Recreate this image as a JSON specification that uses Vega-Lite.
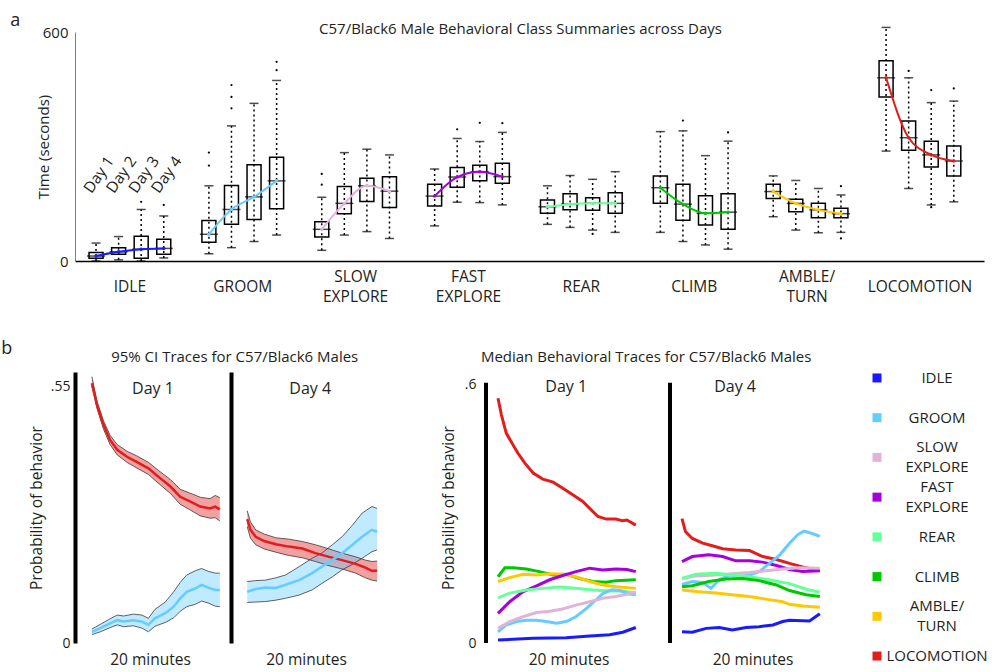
{
"$schema":"https://vega.github.io/schema/vega-lite/v6.json",
"padding":{"left":1,"top":12,"right":0,"bottom":0},
"config":{"font":"Open Sans","view":{"stroke":null},"axis":{"labelColor":"#231f20","titleColor":"#231f20","grid":false},"title":{"color":"#231f20","fontWeight":"normal"}},
"datasets":{
"boxes":[
{"behavior":"IDLE","day":1,"min":0,"q1":7,"median":13,"q3":22,"max":47},
{"behavior":"IDLE","day":2,"min":3,"q1":18,"median":24,"q3":35,"max":64},
{"behavior":"IDLE","day":3,"min":0,"q1":7,"median":31,"q3":65,"max":135},
{"behavior":"IDLE","day":4,"min":8,"q1":18,"median":33,"q3":57,"max":118},
{"behavior":"GROOM","day":1,"min":19,"q1":49,"median":70,"q3":106,"max":197},
{"behavior":"GROOM","day":2,"min":35,"q1":96,"median":135,"q3":198,"max":354},
{"behavior":"GROOM","day":3,"min":51,"q1":109,"median":168,"q3":252,"max":413},
{"behavior":"GROOM","day":4,"min":68,"q1":137,"median":210,"q3":272,"max":473},
{"behavior":"SLOW EXPLORE","day":1,"min":28,"q1":63,"median":83,"q3":103,"max":167},
{"behavior":"SLOW EXPLORE","day":2,"min":68,"q1":124,"median":151,"q3":195,"max":284},
{"behavior":"SLOW EXPLORE","day":3,"min":77,"q1":156,"median":197,"q3":217,"max":293},
{"behavior":"SLOW EXPLORE","day":4,"min":59,"q1":140,"median":183,"q3":221,"max":278},
{"behavior":"FAST EXPLORE","day":1,"min":92,"q1":144,"median":170,"q3":201,"max":241},
{"behavior":"FAST EXPLORE","day":2,"min":154,"q1":193,"median":220,"q3":245,"max":321},
{"behavior":"FAST EXPLORE","day":3,"min":153,"q1":210,"median":234,"q3":251,"max":313},
{"behavior":"FAST EXPLORE","day":4,"min":147,"q1":204,"median":221,"q3":256,"max":337},
{"behavior":"REAR","day":1,"min":96,"q1":125,"median":142,"q3":160,"max":197},
{"behavior":"REAR","day":2,"min":88,"q1":134,"median":149,"q3":176,"max":224},
{"behavior":"REAR","day":3,"min":81,"q1":133,"median":151,"q3":166,"max":214},
{"behavior":"REAR","day":4,"min":75,"q1":125,"median":151,"q3":179,"max":234},
{"behavior":"CLIMB","day":1,"min":75,"q1":151,"median":192,"q3":223,"max":339},
{"behavior":"CLIMB","day":2,"min":51,"q1":107,"median":149,"q3":201,"max":341},
{"behavior":"CLIMB","day":3,"min":42,"q1":94,"median":125,"q3":171,"max":276},
{"behavior":"CLIMB","day":4,"min":31,"q1":83,"median":128,"q3":176,"max":314},
{"behavior":"AMBLE/TURN","day":1,"min":116,"q1":164,"median":182,"q3":201,"max":223},
{"behavior":"AMBLE/TURN","day":2,"min":81,"q1":129,"median":151,"q3":162,"max":211},
{"behavior":"AMBLE/TURN","day":3,"min":74,"q1":113,"median":134,"q3":151,"max":190},
{"behavior":"AMBLE/TURN","day":4,"min":75,"q1":113,"median":124,"q3":138,"max":173},
{"behavior":"LOCOMOTION","day":1,"min":288,"q1":430,"median":480,"q3":525,"max":612},
{"behavior":"LOCOMOTION","day":2,"min":190,"q1":290,"median":323,"q3":367,"max":480},
{"behavior":"LOCOMOTION","day":3,"min":147,"q1":246,"median":278,"q3":314,"max":415},
{"behavior":"LOCOMOTION","day":4,"min":155,"q1":223,"median":262,"q3":301,"max":419}
],
"outliers":[
{"behavior":"IDLE","day":3,"value":155},
{"behavior":"IDLE","day":4,"value":147},
{"behavior":"GROOM","day":1,"value":250},
{"behavior":"GROOM","day":1,"value":284},
{"behavior":"GROOM","day":2,"value":400},
{"behavior":"GROOM","day":2,"value":430},
{"behavior":"GROOM","day":2,"value":461},
{"behavior":"GROOM","day":4,"value":500},
{"behavior":"GROOM","day":4,"value":522},
{"behavior":"SLOW EXPLORE","day":1,"value":200},
{"behavior":"SLOW EXPLORE","day":1,"value":228},
{"behavior":"FAST EXPLORE","day":2,"value":345},
{"behavior":"FAST EXPLORE","day":3,"value":362},
{"behavior":"FAST EXPLORE","day":4,"value":361},
{"behavior":"REAR","day":3,"value":71},
{"behavior":"CLIMB","day":2,"value":368},
{"behavior":"CLIMB","day":4,"value":337},
{"behavior":"AMBLE/TURN","day":4,"value":196},
{"behavior":"AMBLE/TURN","day":4,"value":59},
{"behavior":"LOCOMOTION","day":2,"value":498},
{"behavior":"LOCOMOTION","day":3,"value":448},
{"behavior":"LOCOMOTION","day":3,"value":141},
{"behavior":"LOCOMOTION","day":4,"value":452}
],
"daylabels":[
{"behavior":"IDLE","day":1,"label":"Day 1"},
{"behavior":"IDLE","day":2,"label":"Day 2"},
{"behavior":"IDLE","day":3,"label":"Day 3"},
{"behavior":"IDLE","day":4,"label":"Day 4"}
],
"legend":[
{"behavior":"IDLE"},{"behavior":"GROOM"},{"behavior":"SLOW EXPLORE"},{"behavior":"FAST EXPLORE"},
{"behavior":"REAR"},{"behavior":"CLIMB"},{"behavior":"AMBLE/TURN"},{"behavior":"LOCOMOTION"}
],
"legendtext":[
{"behavior":"IDLE","slot":"c","text":"IDLE"},
{"behavior":"GROOM","slot":"c","text":"GROOM"},
{"behavior":"SLOW EXPLORE","slot":"1","text":"SLOW"},
{"behavior":"SLOW EXPLORE","slot":"2","text":"EXPLORE"},
{"behavior":"FAST EXPLORE","slot":"1","text":"FAST"},
{"behavior":"FAST EXPLORE","slot":"2","text":"EXPLORE"},
{"behavior":"REAR","slot":"c","text":"REAR"},
{"behavior":"CLIMB","slot":"c","text":"CLIMB"},
{"behavior":"AMBLE/TURN","slot":"1","text":"AMBLE/"},
{"behavior":"AMBLE/TURN","slot":"2","text":"TURN"},
{"behavior":"LOCOMOTION","slot":"c","text":"LOCOMOTION"}
],
"panellabels":[{"label":"Day 1"}],
"panellabels4":[{"label":"Day 4"}],
"ci":[
{"day":"Day 1","behavior":"LOCOMOTION","t":0.1,"mean":0.558,"lo":0.552,"hi":0.572},
{"day":"Day 1","behavior":"LOCOMOTION","t":0.9,"mean":0.511,"lo":0.503,"hi":0.519},
{"day":"Day 1","behavior":"LOCOMOTION","t":1.9,"mean":0.468,"lo":0.459,"hi":0.477},
{"day":"Day 1","behavior":"LOCOMOTION","t":2.9,"mean":0.436,"lo":0.426,"hi":0.446},
{"day":"Day 1","behavior":"LOCOMOTION","t":4.0,"mean":0.415,"lo":0.404,"hi":0.426},
{"day":"Day 1","behavior":"LOCOMOTION","t":5.5,"mean":0.400,"lo":0.388,"hi":0.412},
{"day":"Day 1","behavior":"LOCOMOTION","t":7.0,"mean":0.389,"lo":0.376,"hi":0.402},
{"day":"Day 1","behavior":"LOCOMOTION","t":8.8,"mean":0.375,"lo":0.362,"hi":0.388},
{"day":"Day 1","behavior":"LOCOMOTION","t":10.6,"mean":0.354,"lo":0.340,"hi":0.368},
{"day":"Day 1","behavior":"LOCOMOTION","t":12.2,"mean":0.336,"lo":0.321,"hi":0.351},
{"day":"Day 1","behavior":"LOCOMOTION","t":13.7,"mean":0.314,"lo":0.298,"hi":0.330},
{"day":"Day 1","behavior":"LOCOMOTION","t":15.2,"mean":0.304,"lo":0.286,"hi":0.322},
{"day":"Day 1","behavior":"LOCOMOTION","t":16.8,"mean":0.293,"lo":0.273,"hi":0.313},
{"day":"Day 1","behavior":"LOCOMOTION","t":18.3,"mean":0.289,"lo":0.268,"hi":0.310},
{"day":"Day 1","behavior":"LOCOMOTION","t":19.1,"mean":0.293,"lo":0.269,"hi":0.317},
{"day":"Day 1","behavior":"LOCOMOTION","t":19.8,"mean":0.287,"lo":0.262,"hi":0.312},
{"day":"Day 1","behavior":"GROOM","t":0.1,"mean":0.024,"lo":0.018,"hi":0.030},
{"day":"Day 1","behavior":"GROOM","t":1.4,"mean":0.032,"lo":0.024,"hi":0.040},
{"day":"Day 1","behavior":"GROOM","t":2.9,"mean":0.042,"lo":0.033,"hi":0.052},
{"day":"Day 1","behavior":"GROOM","t":4.0,"mean":0.049,"lo":0.039,"hi":0.060},
{"day":"Day 1","behavior":"GROOM","t":5.0,"mean":0.046,"lo":0.035,"hi":0.058},
{"day":"Day 1","behavior":"GROOM","t":6.5,"mean":0.049,"lo":0.037,"hi":0.062},
{"day":"Day 1","behavior":"GROOM","t":7.8,"mean":0.046,"lo":0.032,"hi":0.060},
{"day":"Day 1","behavior":"GROOM","t":8.8,"mean":0.039,"lo":0.024,"hi":0.053},
{"day":"Day 1","behavior":"GROOM","t":9.8,"mean":0.053,"lo":0.036,"hi":0.072},
{"day":"Day 1","behavior":"GROOM","t":11.4,"mean":0.064,"lo":0.044,"hi":0.088},
{"day":"Day 1","behavior":"GROOM","t":12.7,"mean":0.078,"lo":0.054,"hi":0.110},
{"day":"Day 1","behavior":"GROOM","t":13.7,"mean":0.096,"lo":0.068,"hi":0.130},
{"day":"Day 1","behavior":"GROOM","t":14.7,"mean":0.110,"lo":0.078,"hi":0.146},
{"day":"Day 1","behavior":"GROOM","t":16.0,"mean":0.117,"lo":0.083,"hi":0.155},
{"day":"Day 1","behavior":"GROOM","t":17.0,"mean":0.125,"lo":0.090,"hi":0.160},
{"day":"Day 1","behavior":"GROOM","t":18.0,"mean":0.119,"lo":0.086,"hi":0.154},
{"day":"Day 1","behavior":"GROOM","t":19.1,"mean":0.114,"lo":0.079,"hi":0.150},
{"day":"Day 1","behavior":"GROOM","t":19.8,"mean":0.114,"lo":0.078,"hi":0.150},
{"day":"Day 4","behavior":"LOCOMOTION","t":0,"mean":0.266,"lo":0.250,"hi":0.284},
{"day":"Day 4","behavior":"LOCOMOTION","t":0.5,"mean":0.243,"lo":0.225,"hi":0.260},
{"day":"Day 4","behavior":"LOCOMOTION","t":1.3,"mean":0.228,"lo":0.211,"hi":0.243},
{"day":"Day 4","behavior":"LOCOMOTION","t":2.6,"mean":0.219,"lo":0.202,"hi":0.234},
{"day":"Day 4","behavior":"LOCOMOTION","t":4.4,"mean":0.212,"lo":0.195,"hi":0.226},
{"day":"Day 4","behavior":"LOCOMOTION","t":6.4,"mean":0.207,"lo":0.188,"hi":0.223},
{"day":"Day 4","behavior":"LOCOMOTION","t":8.5,"mean":0.203,"lo":0.183,"hi":0.218},
{"day":"Day 4","behavior":"LOCOMOTION","t":10.5,"mean":0.193,"lo":0.175,"hi":0.211},
{"day":"Day 4","behavior":"LOCOMOTION","t":12.6,"mean":0.185,"lo":0.166,"hi":0.202},
{"day":"Day 4","behavior":"LOCOMOTION","t":14.6,"mean":0.178,"lo":0.159,"hi":0.193},
{"day":"Day 4","behavior":"LOCOMOTION","t":16.7,"mean":0.170,"lo":0.150,"hi":0.185},
{"day":"Day 4","behavior":"LOCOMOTION","t":18.2,"mean":0.162,"lo":0.140,"hi":0.178},
{"day":"Day 4","behavior":"LOCOMOTION","t":19.2,"mean":0.155,"lo":0.135,"hi":0.175},
{"day":"Day 4","behavior":"LOCOMOTION","t":20,"mean":0.155,"lo":0.133,"hi":0.176},
{"day":"Day 4","behavior":"GROOM","t":0,"mean":0.110,"lo":0.087,"hi":0.132},
{"day":"Day 4","behavior":"GROOM","t":1.3,"mean":0.116,"lo":0.088,"hi":0.134},
{"day":"Day 4","behavior":"GROOM","t":2.8,"mean":0.119,"lo":0.089,"hi":0.135},
{"day":"Day 4","behavior":"GROOM","t":4.4,"mean":0.118,"lo":0.092,"hi":0.140},
{"day":"Day 4","behavior":"GROOM","t":5.9,"mean":0.125,"lo":0.096,"hi":0.146},
{"day":"Day 4","behavior":"GROOM","t":8.0,"mean":0.135,"lo":0.103,"hi":0.164},
{"day":"Day 4","behavior":"GROOM","t":10.0,"mean":0.150,"lo":0.114,"hi":0.182},
{"day":"Day 4","behavior":"GROOM","t":11.5,"mean":0.164,"lo":0.128,"hi":0.193},
{"day":"Day 4","behavior":"GROOM","t":13.1,"mean":0.178,"lo":0.142,"hi":0.211},
{"day":"Day 4","behavior":"GROOM","t":14.6,"mean":0.193,"lo":0.157,"hi":0.228},
{"day":"Day 4","behavior":"GROOM","t":16.2,"mean":0.211,"lo":0.169,"hi":0.253},
{"day":"Day 4","behavior":"GROOM","t":17.7,"mean":0.228,"lo":0.182,"hi":0.279},
{"day":"Day 4","behavior":"GROOM","t":19.2,"mean":0.243,"lo":0.196,"hi":0.293},
{"day":"Day 4","behavior":"GROOM","t":20,"mean":0.239,"lo":0.200,"hi":0.289}
],
"med":[
{"day":"Day 1","behavior":"LOCOMOTION","t":0,"p":0.569},
{"day":"Day 1","behavior":"LOCOMOTION","t":0.5,"p":0.530},
{"day":"Day 1","behavior":"LOCOMOTION","t":1.2,"p":0.488},
{"day":"Day 1","behavior":"LOCOMOTION","t":2.2,"p":0.460},
{"day":"Day 1","behavior":"LOCOMOTION","t":2.9,"p":0.441},
{"day":"Day 1","behavior":"LOCOMOTION","t":3.9,"p":0.418},
{"day":"Day 1","behavior":"LOCOMOTION","t":5.1,"p":0.395},
{"day":"Day 1","behavior":"LOCOMOTION","t":6.5,"p":0.381},
{"day":"Day 1","behavior":"LOCOMOTION","t":8.0,"p":0.374},
{"day":"Day 1","behavior":"LOCOMOTION","t":9.4,"p":0.360},
{"day":"Day 1","behavior":"LOCOMOTION","t":10.9,"p":0.344},
{"day":"Day 1","behavior":"LOCOMOTION","t":12.3,"p":0.329},
{"day":"Day 1","behavior":"LOCOMOTION","t":13.3,"p":0.313},
{"day":"Day 1","behavior":"LOCOMOTION","t":14.5,"p":0.294},
{"day":"Day 1","behavior":"LOCOMOTION","t":15.7,"p":0.288},
{"day":"Day 1","behavior":"LOCOMOTION","t":17.1,"p":0.288},
{"day":"Day 1","behavior":"LOCOMOTION","t":18.1,"p":0.284},
{"day":"Day 1","behavior":"LOCOMOTION","t":18.7,"p":0.286},
{"day":"Day 1","behavior":"LOCOMOTION","t":20,"p":0.274},
{"day":"Day 1","behavior":"CLIMB","t":0,"p":0.154},
{"day":"Day 1","behavior":"CLIMB","t":1.0,"p":0.175},
{"day":"Day 1","behavior":"CLIMB","t":2.2,"p":0.175},
{"day":"Day 1","behavior":"CLIMB","t":4.1,"p":0.172},
{"day":"Day 1","behavior":"CLIMB","t":6.0,"p":0.166},
{"day":"Day 1","behavior":"CLIMB","t":8.0,"p":0.158},
{"day":"Day 1","behavior":"CLIMB","t":9.9,"p":0.160},
{"day":"Day 1","behavior":"CLIMB","t":11.8,"p":0.150},
{"day":"Day 1","behavior":"CLIMB","t":13.8,"p":0.143},
{"day":"Day 1","behavior":"CLIMB","t":15.7,"p":0.141},
{"day":"Day 1","behavior":"CLIMB","t":17.1,"p":0.145},
{"day":"Day 1","behavior":"CLIMB","t":20,"p":0.147},
{"day":"Day 1","behavior":"AMBLE/TURN","t":0,"p":0.143},
{"day":"Day 1","behavior":"AMBLE/TURN","t":1.7,"p":0.152},
{"day":"Day 1","behavior":"AMBLE/TURN","t":3.6,"p":0.160},
{"day":"Day 1","behavior":"AMBLE/TURN","t":5.6,"p":0.158},
{"day":"Day 1","behavior":"AMBLE/TURN","t":7.5,"p":0.161},
{"day":"Day 1","behavior":"AMBLE/TURN","t":9.4,"p":0.160},
{"day":"Day 1","behavior":"AMBLE/TURN","t":11.3,"p":0.154},
{"day":"Day 1","behavior":"AMBLE/TURN","t":13.3,"p":0.143},
{"day":"Day 1","behavior":"AMBLE/TURN","t":15.2,"p":0.135},
{"day":"Day 1","behavior":"AMBLE/TURN","t":17.1,"p":0.131},
{"day":"Day 1","behavior":"AMBLE/TURN","t":20,"p":0.127},
{"day":"Day 1","behavior":"FAST EXPLORE","t":0,"p":0.069},
{"day":"Day 1","behavior":"FAST EXPLORE","t":1.7,"p":0.096},
{"day":"Day 1","behavior":"FAST EXPLORE","t":3.6,"p":0.119},
{"day":"Day 1","behavior":"FAST EXPLORE","t":5.6,"p":0.133},
{"day":"Day 1","behavior":"FAST EXPLORE","t":7.5,"p":0.147},
{"day":"Day 1","behavior":"FAST EXPLORE","t":9.4,"p":0.157},
{"day":"Day 1","behavior":"FAST EXPLORE","t":11.3,"p":0.166},
{"day":"Day 1","behavior":"FAST EXPLORE","t":13.3,"p":0.174},
{"day":"Day 1","behavior":"FAST EXPLORE","t":15.2,"p":0.170},
{"day":"Day 1","behavior":"FAST EXPLORE","t":17.1,"p":0.172},
{"day":"Day 1","behavior":"FAST EXPLORE","t":18.7,"p":0.171},
{"day":"Day 1","behavior":"FAST EXPLORE","t":20,"p":0.166},
{"day":"Day 1","behavior":"REAR","t":0,"p":0.105},
{"day":"Day 1","behavior":"REAR","t":1.7,"p":0.116},
{"day":"Day 1","behavior":"REAR","t":4.1,"p":0.123},
{"day":"Day 1","behavior":"REAR","t":6.5,"p":0.127},
{"day":"Day 1","behavior":"REAR","t":8.9,"p":0.130},
{"day":"Day 1","behavior":"REAR","t":11.3,"p":0.127},
{"day":"Day 1","behavior":"REAR","t":13.8,"p":0.123},
{"day":"Day 1","behavior":"REAR","t":16.2,"p":0.121},
{"day":"Day 1","behavior":"REAR","t":18.1,"p":0.121},
{"day":"Day 1","behavior":"REAR","t":20,"p":0.116},
{"day":"Day 1","behavior":"GROOM","t":0,"p":0.026},
{"day":"Day 1","behavior":"GROOM","t":1.2,"p":0.042},
{"day":"Day 1","behavior":"GROOM","t":2.7,"p":0.050},
{"day":"Day 1","behavior":"GROOM","t":4.1,"p":0.053},
{"day":"Day 1","behavior":"GROOM","t":5.6,"p":0.053},
{"day":"Day 1","behavior":"GROOM","t":7.0,"p":0.050},
{"day":"Day 1","behavior":"GROOM","t":8.5,"p":0.046},
{"day":"Day 1","behavior":"GROOM","t":9.9,"p":0.050},
{"day":"Day 1","behavior":"GROOM","t":11.3,"p":0.061},
{"day":"Day 1","behavior":"GROOM","t":12.8,"p":0.080},
{"day":"Day 1","behavior":"GROOM","t":14.2,"p":0.100},
{"day":"Day 1","behavior":"GROOM","t":15.2,"p":0.115},
{"day":"Day 1","behavior":"GROOM","t":16.5,"p":0.124},
{"day":"Day 1","behavior":"GROOM","t":17.7,"p":0.122},
{"day":"Day 1","behavior":"GROOM","t":19.0,"p":0.114},
{"day":"Day 1","behavior":"GROOM","t":20,"p":0.112},
{"day":"Day 1","behavior":"SLOW EXPLORE","t":0,"p":0.034},
{"day":"Day 1","behavior":"SLOW EXPLORE","t":1.7,"p":0.050},
{"day":"Day 1","behavior":"SLOW EXPLORE","t":3.6,"p":0.061},
{"day":"Day 1","behavior":"SLOW EXPLORE","t":5.6,"p":0.071},
{"day":"Day 1","behavior":"SLOW EXPLORE","t":7.5,"p":0.074},
{"day":"Day 1","behavior":"SLOW EXPLORE","t":9.4,"p":0.079},
{"day":"Day 1","behavior":"SLOW EXPLORE","t":11.3,"p":0.088},
{"day":"Day 1","behavior":"SLOW EXPLORE","t":13.3,"p":0.096},
{"day":"Day 1","behavior":"SLOW EXPLORE","t":15.2,"p":0.104},
{"day":"Day 1","behavior":"SLOW EXPLORE","t":17.1,"p":0.108},
{"day":"Day 1","behavior":"SLOW EXPLORE","t":20,"p":0.118},
{"day":"Day 1","behavior":"IDLE","t":0,"p":0.007},
{"day":"Day 1","behavior":"IDLE","t":5.1,"p":0.011},
{"day":"Day 1","behavior":"IDLE","t":9.9,"p":0.012},
{"day":"Day 1","behavior":"IDLE","t":13.3,"p":0.016},
{"day":"Day 1","behavior":"IDLE","t":16.2,"p":0.019},
{"day":"Day 1","behavior":"IDLE","t":18.1,"p":0.025},
{"day":"Day 1","behavior":"IDLE","t":20,"p":0.036},
{"day":"Day 4","behavior":"LOCOMOTION","t":0,"p":0.289},
{"day":"Day 4","behavior":"LOCOMOTION","t":0.5,"p":0.259},
{"day":"Day 4","behavior":"LOCOMOTION","t":1.5,"p":0.243},
{"day":"Day 4","behavior":"LOCOMOTION","t":3.0,"p":0.232},
{"day":"Day 4","behavior":"LOCOMOTION","t":4.4,"p":0.226},
{"day":"Day 4","behavior":"LOCOMOTION","t":5.9,"p":0.219},
{"day":"Day 4","behavior":"LOCOMOTION","t":7.8,"p":0.216},
{"day":"Day 4","behavior":"LOCOMOTION","t":9.8,"p":0.215},
{"day":"Day 4","behavior":"LOCOMOTION","t":11.7,"p":0.201},
{"day":"Day 4","behavior":"LOCOMOTION","t":13.7,"p":0.194},
{"day":"Day 4","behavior":"LOCOMOTION","t":15.6,"p":0.185},
{"day":"Day 4","behavior":"LOCOMOTION","t":17.5,"p":0.177},
{"day":"Day 4","behavior":"LOCOMOTION","t":20,"p":0.168},
{"day":"Day 4","behavior":"FAST EXPLORE","t":0,"p":0.189},
{"day":"Day 4","behavior":"FAST EXPLORE","t":1.5,"p":0.201},
{"day":"Day 4","behavior":"FAST EXPLORE","t":3.9,"p":0.205},
{"day":"Day 4","behavior":"FAST EXPLORE","t":5.9,"p":0.201},
{"day":"Day 4","behavior":"FAST EXPLORE","t":7.8,"p":0.191},
{"day":"Day 4","behavior":"FAST EXPLORE","t":9.8,"p":0.191},
{"day":"Day 4","behavior":"FAST EXPLORE","t":11.7,"p":0.188},
{"day":"Day 4","behavior":"FAST EXPLORE","t":13.7,"p":0.180},
{"day":"Day 4","behavior":"FAST EXPLORE","t":15.6,"p":0.171},
{"day":"Day 4","behavior":"FAST EXPLORE","t":17.5,"p":0.166},
{"day":"Day 4","behavior":"FAST EXPLORE","t":20,"p":0.168},
{"day":"Day 4","behavior":"GROOM","t":0,"p":0.136},
{"day":"Day 4","behavior":"GROOM","t":1.5,"p":0.143},
{"day":"Day 4","behavior":"GROOM","t":3.0,"p":0.141},
{"day":"Day 4","behavior":"GROOM","t":4.2,"p":0.127},
{"day":"Day 4","behavior":"GROOM","t":5.4,"p":0.147},
{"day":"Day 4","behavior":"GROOM","t":6.9,"p":0.158},
{"day":"Day 4","behavior":"GROOM","t":8.3,"p":0.154},
{"day":"Day 4","behavior":"GROOM","t":9.8,"p":0.158},
{"day":"Day 4","behavior":"GROOM","t":11.2,"p":0.166},
{"day":"Day 4","behavior":"GROOM","t":12.7,"p":0.185},
{"day":"Day 4","behavior":"GROOM","t":14.2,"p":0.205},
{"day":"Day 4","behavior":"GROOM","t":15.6,"p":0.232},
{"day":"Day 4","behavior":"GROOM","t":16.8,"p":0.252},
{"day":"Day 4","behavior":"GROOM","t":17.7,"p":0.260},
{"day":"Day 4","behavior":"GROOM","t":19.0,"p":0.254},
{"day":"Day 4","behavior":"GROOM","t":20,"p":0.248},
{"day":"Day 4","behavior":"SLOW EXPLORE","t":0,"p":0.150},
{"day":"Day 4","behavior":"SLOW EXPLORE","t":2.0,"p":0.156},
{"day":"Day 4","behavior":"SLOW EXPLORE","t":4.9,"p":0.158},
{"day":"Day 4","behavior":"SLOW EXPLORE","t":7.3,"p":0.161},
{"day":"Day 4","behavior":"SLOW EXPLORE","t":9.8,"p":0.164},
{"day":"Day 4","behavior":"SLOW EXPLORE","t":12.2,"p":0.168},
{"day":"Day 4","behavior":"SLOW EXPLORE","t":14.6,"p":0.172},
{"day":"Day 4","behavior":"SLOW EXPLORE","t":17,"p":0.175},
{"day":"Day 4","behavior":"SLOW EXPLORE","t":20,"p":0.174},
{"day":"Day 4","behavior":"REAR","t":0,"p":0.150},
{"day":"Day 4","behavior":"REAR","t":2.0,"p":0.160},
{"day":"Day 4","behavior":"REAR","t":4.9,"p":0.162},
{"day":"Day 4","behavior":"REAR","t":7.3,"p":0.158},
{"day":"Day 4","behavior":"REAR","t":9.8,"p":0.154},
{"day":"Day 4","behavior":"REAR","t":12.2,"p":0.148},
{"day":"Day 4","behavior":"REAR","t":15.6,"p":0.138},
{"day":"Day 4","behavior":"REAR","t":18,"p":0.125},
{"day":"Day 4","behavior":"REAR","t":20,"p":0.118},
{"day":"Day 4","behavior":"CLIMB","t":0,"p":0.131},
{"day":"Day 4","behavior":"CLIMB","t":1.5,"p":0.133},
{"day":"Day 4","behavior":"CLIMB","t":3.9,"p":0.143},
{"day":"Day 4","behavior":"CLIMB","t":6.4,"p":0.149},
{"day":"Day 4","behavior":"CLIMB","t":8.8,"p":0.150},
{"day":"Day 4","behavior":"CLIMB","t":11.2,"p":0.145},
{"day":"Day 4","behavior":"CLIMB","t":13.7,"p":0.135},
{"day":"Day 4","behavior":"CLIMB","t":15.6,"p":0.122},
{"day":"Day 4","behavior":"CLIMB","t":18,"p":0.112},
{"day":"Day 4","behavior":"CLIMB","t":20,"p":0.108},
{"day":"Day 4","behavior":"AMBLE/TURN","t":0,"p":0.123},
{"day":"Day 4","behavior":"AMBLE/TURN","t":2.5,"p":0.119},
{"day":"Day 4","behavior":"AMBLE/TURN","t":4.9,"p":0.116},
{"day":"Day 4","behavior":"AMBLE/TURN","t":7.3,"p":0.112},
{"day":"Day 4","behavior":"AMBLE/TURN","t":9.8,"p":0.108},
{"day":"Day 4","behavior":"AMBLE/TURN","t":12.2,"p":0.102},
{"day":"Day 4","behavior":"AMBLE/TURN","t":14.6,"p":0.096},
{"day":"Day 4","behavior":"AMBLE/TURN","t":15.6,"p":0.090},
{"day":"Day 4","behavior":"AMBLE/TURN","t":17.5,"p":0.086},
{"day":"Day 4","behavior":"AMBLE/TURN","t":20,"p":0.083},
{"day":"Day 4","behavior":"IDLE","t":0,"p":0.026},
{"day":"Day 4","behavior":"IDLE","t":1.5,"p":0.025},
{"day":"Day 4","behavior":"IDLE","t":3.5,"p":0.034},
{"day":"Day 4","behavior":"IDLE","t":5.4,"p":0.036},
{"day":"Day 4","behavior":"IDLE","t":7.3,"p":0.030},
{"day":"Day 4","behavior":"IDLE","t":9.3,"p":0.036},
{"day":"Day 4","behavior":"IDLE","t":11.2,"p":0.038},
{"day":"Day 4","behavior":"IDLE","t":13.2,"p":0.042},
{"day":"Day 4","behavior":"IDLE","t":14.6,"p":0.050},
{"day":"Day 4","behavior":"IDLE","t":15.6,"p":0.053},
{"day":"Day 4","behavior":"IDLE","t":18.5,"p":0.051},
{"day":"Day 4","behavior":"IDLE","t":20,"p":0.068}
]
},
"align":"none",
"spacing":35,
"vconcat":[
{"title":{"text":"a","orient":"left","anchor":"end","angle":0,"fontSize":18,"offset":6,"dy":-10},
 "vconcat":[
 {"width":909,"height":229,
  "title":{"text":"C57/Black6 Male Behavioral Class Summaries across Days","fontSize":15,"offset":-12,"dx":-9},
  "encoding":{
   "x":{"field":"behavior","type":"nominal","sort":["IDLE","GROOM","SLOW EXPLORE","FAST EXPLORE","REAR","CLIMB","AMBLE/TURN","LOCOMOTION"],
        "scale":{"paddingInner":0.2,"paddingOuter":0.127,"align":0.34},
        "axis":{"title":null,"labelAngle":0,"ticks":false,"domainColor":"black","domainWidth":1.5,"labelFontSize":15.5,"labelBaseline":"middle","labelLineHeight":20,
                "labelPadding":{"condition":{"test":"datum.value == 'SLOW EXPLORE' || datum.value == 'FAST EXPLORE' || datum.value == 'AMBLE/TURN'","value":15},"value":25},
                "labelExpr":"datum.label == 'AMBLE/TURN' ? ['AMBLE/', 'TURN'] : split(datum.label, ' ')"}},
   "xOffset":{"field":"day","type":"ordinal","scale":{"paddingInner":0.38,"paddingOuter":0.19}}
  },
  "layer":[
   {"data":{"name":"boxes"},"mark":{"type":"rule","strokeDash":[2,3],"strokeWidth":1.5,"color":"black"},
    "encoding":{"y":{"field":"min","type":"quantitative","scale":{"domain":[0,600],"nice":false},
       "axis":{"values":[0,600],"ticks":false,"domainColor":"#808080","title":"Time (seconds)","titleFontSize":15,"titleFontWeight":"normal","labelFontSize":15,"labelPadding":7,"titlePadding":-9}},
     "y2":{"field":"max"}}},
   {"data":{"name":"boxes"},"mark":{"type":"bar","fillOpacity":0,"stroke":"black","strokeWidth":1.5},
    "encoding":{"y":{"field":"q1","type":"quantitative"},"y2":{"field":"q3"}}},
   {"data":{"name":"boxes"},"mark":{"type":"tick","color":"black","thickness":1.5,"size":18},
    "encoding":{"y":{"field":"median","type":"quantitative"}}},
   {"data":{"name":"boxes"},"mark":{"type":"tick","color":"black","thickness":1.5,"size":9},
    "encoding":{"y":{"field":"max","type":"quantitative"}}},
   {"data":{"name":"boxes"},"mark":{"type":"tick","color":"black","thickness":1.5,"size":9},
    "encoding":{"y":{"field":"min","type":"quantitative"}}},
   {"data":{"name":"outliers"},"mark":{"type":"circle","size":5,"color":"black","opacity":1},
    "encoding":{"y":{"field":"value","type":"quantitative"}}},
   {"data":{"name":"boxes"},"mark":{"type":"line","interpolate":"monotone","strokeWidth":2,"point":{"filled":true,"size":12}},
    "encoding":{"y":{"field":"median","type":"quantitative"},"order":{"field":"day"},
     "color":{"field":"behavior","type":"nominal","legend":null,
       "scale":{"domain":["IDLE","GROOM","SLOW EXPLORE","FAST EXPLORE","REAR","CLIMB","AMBLE/TURN","LOCOMOTION"],"range":["#1a1aff","#66ccff","#e0b4d8","#a600e0","#66ff99","#00c800","#ffc800","#e31c1c"]}}}},
   {"data":{"name":"daylabels"},"mark":{"type":"text","angle":-55,"fontSize":15.5,"dx":5,"color":"#231f20"},
    "encoding":{"y":{"datum":215},"text":{"field":"label"}}}
  ]}
 ]},
{"title":{"text":"b","orient":"left","anchor":"end","angle":0,"fontSize":18,"offset":6,"dy":-10},
 "align":"none",
 "spacing":58,
 "hconcat":[
  {"title":{"text":"95% CI Traces for C57/Black6 Males","fontSize":15,"offset":7,"anchor":"middle","dx":29},
   "spacing":6,
   "hconcat":[
    {"width":150,"height":271,
     "layer":[
      {"data":{"name":"ci"},"transform":[{"filter":"datum.day == 'Day 1'"}],"mark":{"type":"area","opacity":0.42},
       "encoding":{
        "x":{"field":"t","type":"quantitative","scale":{"domain":[-2.5,20.6],"nice":false,"zero":false},
          "axis":{"domain":false,"ticks":false,"labels":false,"title":"20 minutes","titleFontSize":15.5,"titleFontWeight":"normal","titlePadding":9}},
        "y":{"field":"lo","type":"quantitative","scale":{"domain":[0,0.582],"nice":false,"zero":false},
          "axis":{"values":[0,0.55],"labelExpr":"datum.value == 0 ? '0' : slice(format(datum.value, '.2~f'), 1)","ticks":false,"domainColor":"black","domainWidth":4,"title":"Probability of behavior","titleFontSize":15.5,"titleFontWeight":"normal","labelFontSize":14,"labelPadding":5,"titlePadding":6}},
        "y2":{"field":"hi"},
        "color":{"field":"behavior","type":"nominal","legend":null}}},
      {"data":{"name":"ci"},"transform":[{"filter":"datum.day == 'Day 1'"}],"mark":{"type":"line","color":"#3a3a3a","strokeWidth":0.8},
       "encoding":{"x":{"field":"t","type":"quantitative"},"y":{"field":"lo","type":"quantitative"},"detail":{"field":"behavior"}}},
      {"data":{"name":"ci"},"transform":[{"filter":"datum.day == 'Day 1'"}],"mark":{"type":"line","color":"#3a3a3a","strokeWidth":0.8},
       "encoding":{"x":{"field":"t","type":"quantitative"},"y":{"field":"hi","type":"quantitative"},"detail":{"field":"behavior"}}},
      {"data":{"name":"ci"},"transform":[{"filter":"datum.day == 'Day 1'"}],"mark":{"type":"line","strokeWidth":2.5},
       "encoding":{"x":{"field":"t","type":"quantitative"},"y":{"field":"mean","type":"quantitative"},"color":{"field":"behavior","type":"nominal","legend":null}}},
      {"data":{"name":"panellabels"},"mark":{"type":"text","fontSize":16,"color":"#231f20"},
       "encoding":{"x":{"datum":9.5,"type":"quantitative"},"y":{"datum":0.546,"type":"quantitative"},"text":{"field":"label","type":"nominal"}}}
     ]},
    {"width":150,"height":271,
     "layer":[
      {"data":{"name":"ci"},"transform":[{"filter":"datum.day == 'Day 4'"}],"mark":{"type":"area","opacity":0.42},
       "encoding":{
        "x":{"field":"t","type":"quantitative","scale":{"domain":[-2.5,20.6],"nice":false,"zero":false},
          "axis":{"domain":false,"ticks":false,"labels":false,"title":"20 minutes","titleFontSize":15.5,"titleFontWeight":"normal","titlePadding":9}},
        "y":{"field":"lo","type":"quantitative","scale":{"domain":[0,0.582],"nice":false,"zero":false},
          "axis":{"values":[0,0.55],"labels":false,"ticks":false,"domainColor":"black","domainWidth":4,"title":null}},
        "y2":{"field":"hi"},
        "color":{"field":"behavior","type":"nominal","legend":null}}},
      {"data":{"name":"ci"},"transform":[{"filter":"datum.day == 'Day 4'"}],"mark":{"type":"line","color":"#3a3a3a","strokeWidth":0.8},
       "encoding":{"x":{"field":"t","type":"quantitative"},"y":{"field":"lo","type":"quantitative"},"detail":{"field":"behavior"}}},
      {"data":{"name":"ci"},"transform":[{"filter":"datum.day == 'Day 4'"}],"mark":{"type":"line","color":"#3a3a3a","strokeWidth":0.8},
       "encoding":{"x":{"field":"t","type":"quantitative"},"y":{"field":"hi","type":"quantitative"},"detail":{"field":"behavior"}}},
      {"data":{"name":"ci"},"transform":[{"filter":"datum.day == 'Day 4'"}],"mark":{"type":"line","strokeWidth":2.5},
       "encoding":{"x":{"field":"t","type":"quantitative"},"y":{"field":"mean","type":"quantitative"},"color":{"field":"behavior","type":"nominal","legend":null}}},
      {"data":{"name":"panellabels4"},"mark":{"type":"text","fontSize":16,"color":"#231f20"},
       "encoding":{"x":{"datum":9.7,"type":"quantitative"},"y":{"datum":0.546,"type":"quantitative"},"text":{"field":"label","type":"nominal"}}}
     ]}
   ]},
  {"align":"none","spacing":18,
   "hconcat":[
   {"title":{"text":"Median Behavioral Traces for C57/Black6 Males","fontSize":15,"offset":7,"anchor":"middle","dx":8},
    "spacing":17,
    "hconcat":[
     {"width":165,"height":271,
      "layer":[
       {"data":{"name":"med"},"transform":[{"filter":"datum.day == 'Day 1'"}],"mark":{"type":"line","strokeWidth":3},
        "encoding":{
         "x":{"field":"t","type":"quantitative","scale":{"domain":[-1.74,22.2],"nice":false,"zero":false},
           "axis":{"domain":false,"ticks":false,"labels":false,"title":"20 minutes","titleFontSize":15.5,"titleFontWeight":"normal","titlePadding":9}},
         "y":{"field":"p","type":"quantitative","scale":{"domain":[0,0.63],"nice":false,"zero":false},
           "axis":{"values":[0,0.6],"labelExpr":"datum.value == 0 ? '0' : slice(format(datum.value, '.1~f'), 1)","ticks":false,"domain":false,"title":"Probability of behavior","titleFontSize":15.5,"titleFontWeight":"normal","labelFontSize":14,"labelPadding":10,"titlePadding":8}},
         "color":{"field":"behavior","type":"nominal","legend":null}}},
       {"data":{"name":"panellabels"},"mark":{"type":"rule","strokeWidth":4,"color":"black"},
        "encoding":{"x":{"datum":-1.74,"type":"quantitative"},"y":{"datum":0,"type":"quantitative"},"y2":{"datum":0.605}}},
       {"data":{"name":"panellabels"},"mark":{"type":"text","fontSize":16,"color":"#231f20"},
        "encoding":{"x":{"datum":9.9,"type":"quantitative"},"y":{"datum":0.595,"type":"quantitative"},"text":{"field":"label","type":"nominal"}}}
      ]},
     {"width":165,"height":271,
      "layer":[
       {"data":{"name":"med"},"transform":[{"filter":"datum.day == 'Day 4'"}],"mark":{"type":"line","strokeWidth":3},
        "encoding":{
         "x":{"field":"t","type":"quantitative","scale":{"domain":[-1.74,22.2],"nice":false,"zero":false},
           "axis":{"domain":false,"ticks":false,"labels":false,"title":"20 minutes","titleFontSize":15.5,"titleFontWeight":"normal","titlePadding":9}},
         "y":{"field":"p","type":"quantitative","scale":{"domain":[0,0.63],"nice":false,"zero":false},
           "axis":null},
         "color":{"field":"behavior","type":"nominal","legend":null}}},
       {"data":{"name":"panellabels4"},"mark":{"type":"rule","strokeWidth":4,"color":"black"},
        "encoding":{"x":{"datum":-1.74,"type":"quantitative"},"y":{"datum":0,"type":"quantitative"},"y2":{"datum":0.605}}},
       {"data":{"name":"panellabels4"},"mark":{"type":"text","fontSize":16,"color":"#231f20"},
        "encoding":{"x":{"datum":7.7,"type":"quantitative"},"y":{"datum":0.595,"type":"quantitative"},"text":{"field":"label","type":"nominal"}}}
      ]}
    ]},
   {"width":150,"height":290,
    "encoding":{
     "x":{"datum":1,"type":"quantitative","scale":{"domain":[-0.4,2.1],"nice":false,"zero":false},"axis":null},
     "y":{"field":"behavior","type":"nominal","sort":["IDLE","GROOM","SLOW EXPLORE","FAST EXPLORE","REAR","CLIMB","AMBLE/TURN","LOCOMOTION"],
          "scale":{"type":"band","paddingInner":0.7,"paddingOuter":0,"align":0},"axis":null}
    },
    "layer":[
     {"data":{"name":"legend"},"mark":{"type":"square","size":81,"opacity":1,"filled":true},
      "encoding":{
       "x":{"datum":0,"type":"quantitative"},
       "color":{"field":"behavior","type":"nominal","legend":null}}},
     {"data":{"name":"legendtext"},"transform":[{"filter":"datum.slot == 'c'"}],"mark":{"type":"text","fontSize":15,"color":"#231f20","align":"center","baseline":"middle"},
      "encoding":{"text":{"field":"text","type":"nominal"}}},
     {"data":{"name":"legendtext"},"transform":[{"filter":"datum.slot == '1'"}],"mark":{"type":"text","fontSize":15,"color":"#231f20","align":"center","baseline":"middle","dy":-10},
      "encoding":{"text":{"field":"text","type":"nominal"}}},
     {"data":{"name":"legendtext"},"transform":[{"filter":"datum.slot == '2'"}],"mark":{"type":"text","fontSize":15,"color":"#231f20","align":"center","baseline":"middle","dy":10},
      "encoding":{"text":{"field":"text","type":"nominal"}}}
    ]}
   ]}
 ]}
]
}
